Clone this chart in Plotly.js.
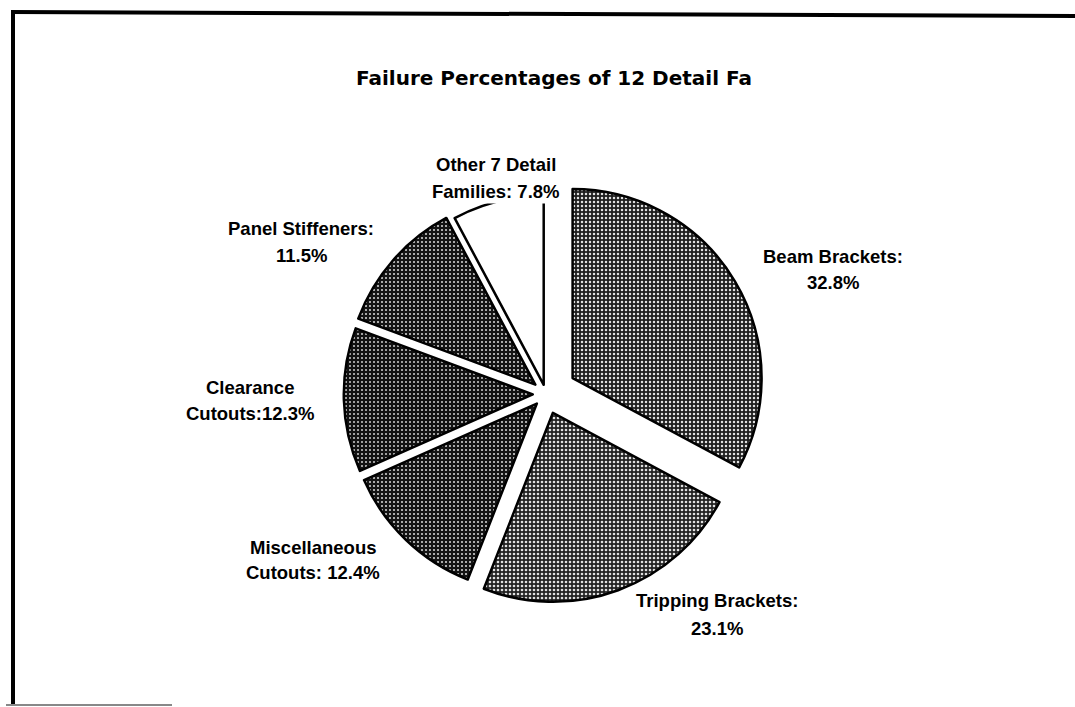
<!DOCTYPE html>
<html>
<head>
<meta charset="utf-8">
<script src="https://cdn.plot.ly/plotly-3.0.1.min.js"></script>
<style>
  html, body { margin: 0; padding: 0; background: #ffffff; }
  #chart { width: 1075px; height: 707px; }
</style>
</head>
<body>
<div id="chart"></div>
<script>
// ---- data ----
const categories = [
  "Beam Brackets",
  "Tripping Brackets",
  "Miscellaneous Cutouts",
  "Clearance Cutouts",
  "Panel Stiffeners",
  "Other 7 Detail Families"
];
const percentages = [32.8, 23.1, 12.4, 12.3, 11.5, 7.8];
const labelLines = [
  ["Beam Brackets:", "32.8%"],
  ["Tripping Brackets:", "23.1%"],
  ["Miscellaneous", "Cutouts: 12.4%"],
  ["Clearance", "Cutouts:12.3%"],
  ["Panel Stiffeners:", "11.5%"],
  ["Other 7 Detail", "Families: 7.8%"]
];
const titleText = "Failure Percentages of 12 Detail Fa";

// ---- styles / layout ----
const W = 1075, H = 707;
const sliceColors = ["#1e1e1e", "#222222", "#141414", "#121212", "#141414", "#ffffff"];
const dotColors = ["#e0e0e0", "#e0e0e0", "#d0d0d0", "#d0d0d0", "#d0d0d0", "#ffffff"];
const pulls = [0.164, 0.106, 0.07, 0.07, 0.075, 0.05];
const patShapes = [".", ".", ".", ".", ".", ""];
const patSolidity = [0.3, 0.33, 0.22, 0.2, 0.22, 0.2];

// pie geometry (pixels)
const cx = 546, cy = 394, r = 189;
const half = r * (1 + Math.max(...pulls));

// label positions (pixel centres of each line)
const labelPos = [
  {x: 833, y: [256, 282]},
  {x: 717, y: [600, 628]},
  {x: 313, y: [547, 572]},
  {x: 250, y: [387, 413]},
  {x: 301, y: [228, 255]},
  {x: 496, y: [165, 191]}
];

const labelFont = {family: "Liberation Sans, Arial, sans-serif", size: 18.5, color: "#000000", weight: "bold"};

const annotations = [];
labelLines.forEach((lines, i) => {
  lines.forEach((t, j) => {
    annotations.push({
      text: t,
      xref: "paper", yref: "paper",
      x: labelPos[i].x / W,
      y: 1 - labelPos[i].y[j] / H,
      xanchor: "center", yanchor: "middle",
      showarrow: false,
      font: labelFont,
      bgcolor: (i === 5) ? "#ffffff" : "rgba(0,0,0,0)",
      borderpad: 1
    });
  });
});

const px = v => v / W, py = v => 1 - v / H;
const shapes = [
  {type: "line", xref: "paper", yref: "paper", x0: px(11), y0: py(12), x1: px(1075), y1: py(16), line: {color: "#000", width: 4}},
  {type: "line", xref: "paper", yref: "paper", x0: px(13), y0: py(11), x1: px(13), y1: py(705), line: {color: "#000", width: 4}},
  {type: "line", xref: "paper", yref: "paper", x0: px(6), y0: py(705), x1: px(172), y1: py(705), line: {color: "#888", width: 2}}
];

const trace = {
  type: "pie",
  labels: categories,
  values: percentages,
  sort: false,
  direction: "clockwise",
  rotation: 0,
  pull: pulls,
  textinfo: "none",
  hoverinfo: "label+percent",
  showlegend: false,
  domain: {
    x: [(cx - half) / W, (cx + half) / W],
    y: [1 - (cy + half) / H, 1 - (cy - half) / H]
  },
  marker: {
    colors: sliceColors,
    line: {color: "#000000", width: 2.5},
    pattern: {
      shape: patShapes,
      fgcolor: dotColors,
      bgcolor: sliceColors,
      size: 4,
      solidity: patSolidity
    }
  }
};

const layout = {
  width: W, height: H,
  margin: {l: 0, r: 0, t: 0, b: 0},
  paper_bgcolor: "#ffffff",
  plot_bgcolor: "#ffffff",
  title: {
    text: titleText,
    x: 554 / W, xanchor: "center",
    y: 1 - 78 / H, yanchor: "middle",
    xref: "container", yref: "container",
    font: {family: "DejaVu Sans, sans-serif", size: 20, color: "#000000", weight: "bold"}
  },
  annotations: annotations,
  shapes: shapes
};

Plotly.newPlot("chart", [trace], layout, {displayModeBar: false, staticPlot: true});
</script>
</body>
</html>
